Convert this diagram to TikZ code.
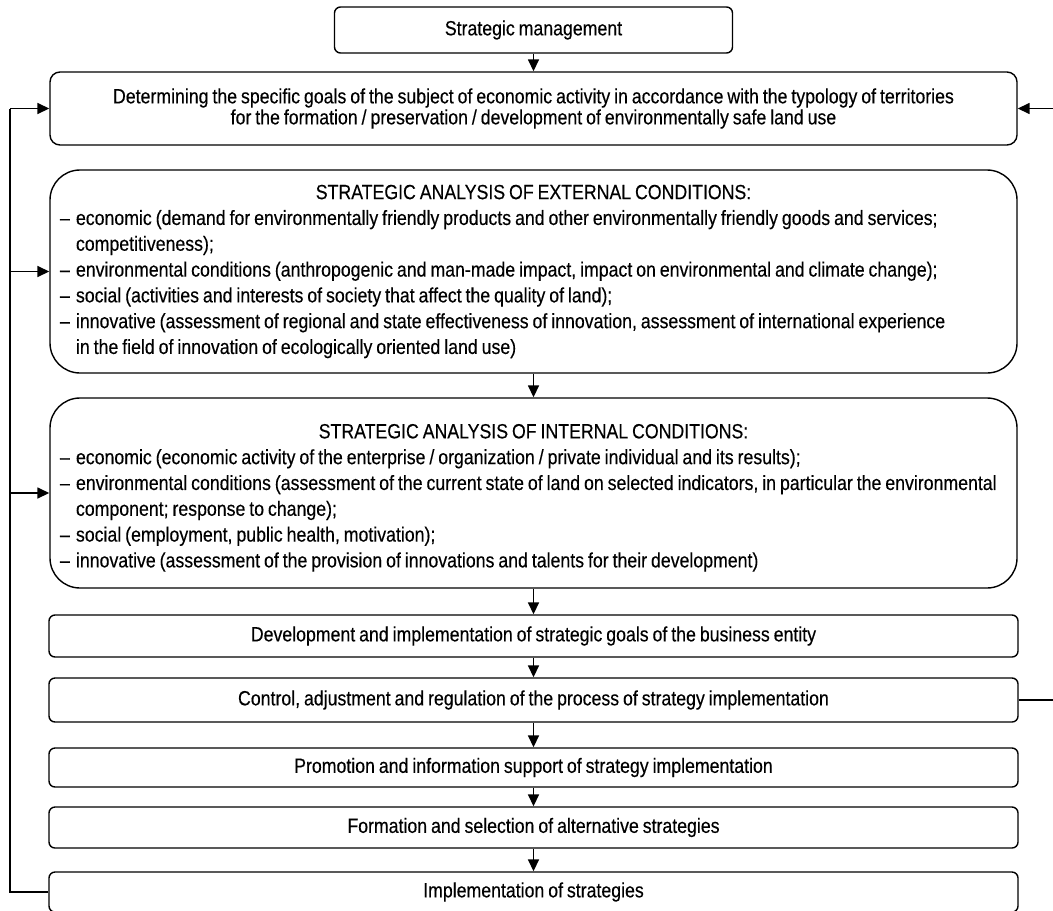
\documentclass[tikz,border=0pt]{standalone}
\usepackage{fontspec}
\setmainfont{Liberation Sans}[FakeStretch=0.86,WordSpace=0.8,FakeBold=0.3]
\usetikzlibrary{arrows.meta}

\newcommand{\itemdash}{\makebox[8pt][l]{–}}
\newcommand{\itemgap}{\hspace*{8pt}}

\begin{document}
\begin{tikzpicture}[x=0.5pt,y=-0.5pt,
    box/.style={draw,line width=0.7pt,rounded corners=3pt,inner sep=0pt,
      minimum width=484.5pt,align=center,font=\fontsize{10.3}{10.5}\selectfont},
    bigbox/.style={draw,line width=0.7pt,rounded corners=15pt,inner xsep=5pt,
      inner ysep=0pt,text width=473.5pt,align=flush left,font=\fontsize{10.3}{12.9}\selectfont},
    arr/.style={-{Triangle[length=6pt,width=5.5pt]},line width=0.8pt}]
  \useasboundingbox (0,0) rectangle (1053,910);
  \clip (0,0) rectangle (1053,910);

  \node[box,minimum width=199pt,minimum height=23pt] (mgmt) at (533.5,30) {Strategic management};
  \node[box,minimum width=483.5pt,minimum height=36.5pt,rounded corners=5pt] (goals) at (533.5,108.5)
    {Determining the specific goals of the subject of economic activity in accordance with the typology of territories\\
     for the formation / preservation / development of environmentally safe land use};

  \node[bigbox,minimum height=101.5pt] (ext) at (533.5,271.5)
    {\makebox[473.5pt]{STRATEGIC ANALYSIS OF EXTERNAL CONDITIONS:}\\
     \itemdash economic (demand for environmentally friendly products and other environmentally friendly goods and services;\\
     \itemgap competitiveness);\\
     \itemdash environmental conditions (anthropogenic and man-made impact, impact on environmental and climate change);\\
     \itemdash social (activities and interests of society that affect the quality of land);\\
     \itemdash innovative (assessment of regional and state effectiveness of innovation, assessment of international experience\\
     \itemgap in the field of innovation of ecologically oriented land use)};

  \node[bigbox,minimum height=95pt] (int) at (533.5,493)
    {\rule{0pt}{12pt}\makebox[473.5pt]{STRATEGIC ANALYSIS OF INTERNAL CONDITIONS:}\\
     \itemdash economic (economic activity of the enterprise / organization / private individual and its results);\\
     \itemdash environmental conditions (assessment of the current state of land on selected indicators, in particular the environmental\\
     \itemgap component; response to change);\\
     \itemdash social (employment, public health, motivation);\\
     \itemdash innovative (assessment of the provision of innovations and talents for their development)};

  \node[box,minimum height=21pt] (dev) at (533.5,636) {Development and implementation of strategic goals of the business entity};
  \node[box,minimum height=22pt] (ctrl) at (533.5,700) {Control, adjustment and regulation of the process of strategy implementation};
  \node[box,minimum height=19.5pt] (promo) at (533.5,767.5) {Promotion and information support of strategy implementation};
  \node[box,minimum height=20.5pt] (form) at (533.5,827.5) {Formation and selection of alternative strategies};
  \node[box,minimum height=20pt] (impl) at (533.5,892) {Implementation of strategies};

  \foreach \a/\b in {mgmt/goals,ext/int,int/dev,dev/ctrl,ctrl/promo,promo/form,form/impl}
    \draw[arr] (\a.south) -- (\b.north);

  \coordinate (lbot) at (10,892);
  \coordinate (ltop) at (10,108.5);
  \draw[line width=0.9pt] (impl.west) -- (lbot) -- (ltop);
  \draw[arr] (ltop) -- (goals.west);
  \draw[arr] (ext.west -| ltop) -- (ext.west);
  \draw[arr] (int.west -| ltop) -- (int.west);

  \coordinate (rside) at (1080,700);
  \draw[arr] (ctrl.east) -- (rside) |- (goals.east);
\end{tikzpicture}
\end{document}
